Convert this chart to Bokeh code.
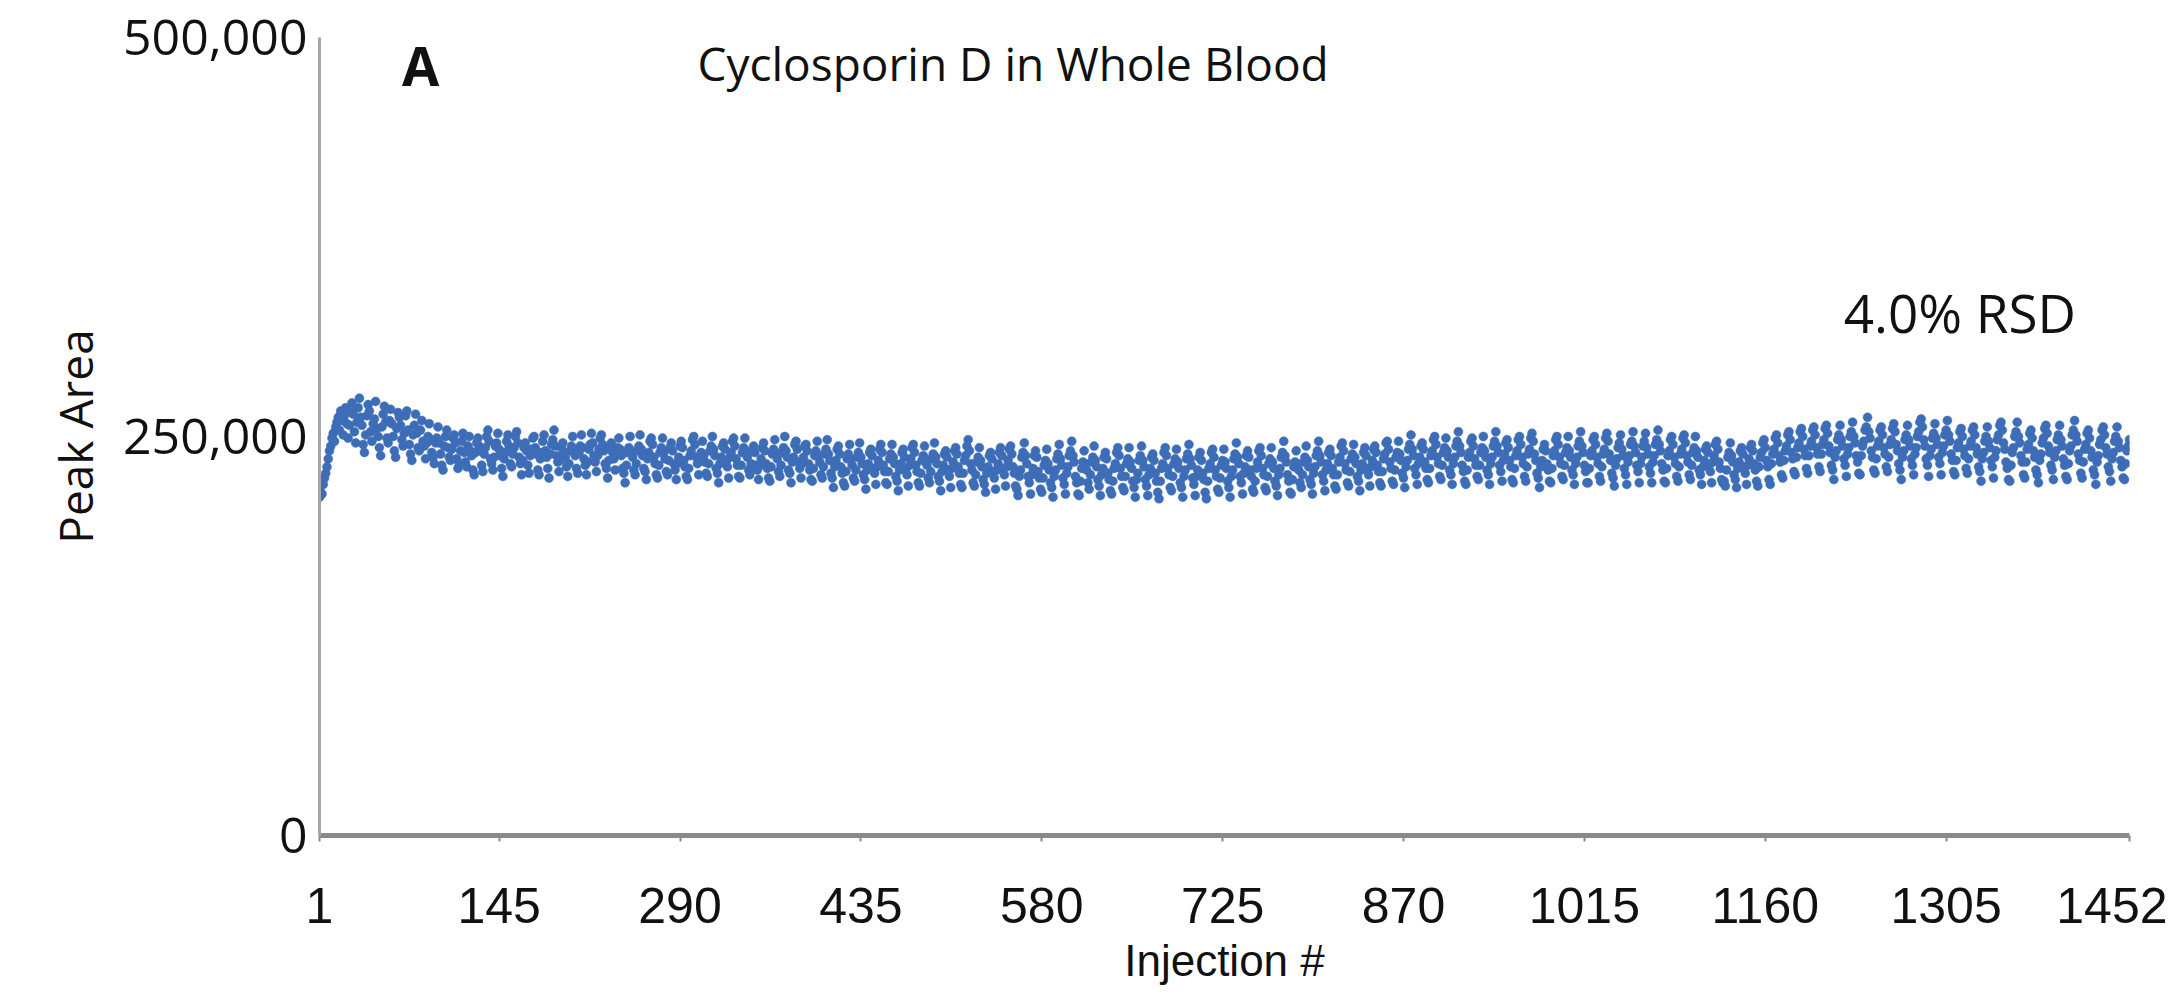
from bokeh.plotting import figure
from bokeh.models import Range1d, FixedTicker, NumeralTickFormatter, Label
from bokeh.embed import file_html
from bokeh.resources import INLINE

# ---------------- data (peak area in thousands, one value per injection) ----------------
peak_area_k = [
    212,215,214,220,224,227,231,236,241,244,249,252,247,256,259,262,254,266,260,251,263,268,258,249,
    257,266,271,264,253,246,259,268,274,262,257,245,240,251,263,270,266,253,247,258,261,272,255,250,
    243,238,256,264,269,259,249,246,260,267,258,250,241,237,255,265,262,257,248,244,252,263,266,254,
    245,239,235,251,257,264,252,243,241,254,260,247,244,236,246,250,258,248,240,237,233,246,249,256,
    246,239,232,229,244,250,254,243,237,235,242,249,251,246,236,230,233,241,247,252,240,234,231,244,
    250,241,238,229,226,240,246,249,244,241,232,228,239,243,250,254,247,236,233,229,237,244,246,252,
    242,238,230,225,236,240,247,251,244,233,231,239,243,250,253,246,237,233,226,235,243,246,241,232,
    227,238,242,249,250,243,239,229,226,236,240,247,251,241,237,230,224,239,245,248,254,244,238,234,
    228,235,243,246,240,237,231,225,233,241,244,250,242,238,230,227,240,244,251,243,236,232,226,234,
    242,245,252,246,238,234,228,238,242,249,251,245,241,233,230,224,235,243,246,240,236,229,239,243,
    249,242,238,230,227,221,232,240,243,250,241,237,229,226,233,241,244,251,242,238,230,228,223,236,
    240,247,249,245,237,233,226,224,232,240,243,249,240,236,228,226,235,243,246,241,233,229,223,233,
    237,244,247,243,235,231,225,223,230,238,241,248,250,245,237,233,226,236,240,247,238,234,227,225,
    233,241,244,250,242,238,230,227,221,233,237,244,246,242,234,231,224,237,240,247,249,244,236,232,
    225,224,232,240,243,249,241,237,229,226,233,241,244,240,232,229,223,232,236,243,246,241,233,230,
    224,222,231,239,242,248,240,236,228,225,232,240,243,250,241,237,229,227,221,234,237,245,247,242,
    234,230,224,233,237,244,245,241,233,229,223,222,230,238,241,247,238,234,226,224,231,239,242,248,
    239,235,227,224,218,231,235,242,244,239,231,227,221,219,228,236,239,245,236,232,224,222,229,237,
    240,246,237,233,226,223,217,229,233,240,242,238,230,227,220,231,235,242,245,240,232,228,221,220,
    228,236,239,245,237,233,225,222,216,229,233,240,242,237,229,226,219,232,236,243,245,240,232,228,
    221,219,227,235,238,244,236,232,224,221,228,236,239,246,237,233,225,222,216,228,232,239,241,237,
    229,225,218,230,234,241,243,239,231,227,220,218,227,235,238,244,248,241,233,229,221,219,226,234,
    237,243,235,231,223,220,215,227,231,238,240,236,228,224,217,229,233,240,243,238,230,226,219,231,
    235,242,244,239,231,227,219,217,213,225,229,237,240,246,238,233,225,221,214,226,230,238,241,237,
    228,224,217,215,224,232,235,242,233,229,221,218,212,225,229,236,239,245,236,232,224,220,214,227,
    231,238,241,247,238,234,225,221,214,213,222,230,234,241,233,229,221,217,226,234,237,244,235,231,
    223,219,213,226,230,237,240,236,227,223,216,214,222,230,233,240,243,238,230,225,218,216,225,233,
    236,243,234,230,222,218,212,223,227,235,238,244,235,231,223,219,213,226,230,237,239,235,227,222,
    215,211,222,230,233,240,243,238,230,226,218,216,225,233,236,242,234,230,221,218,212,225,229,236,
    239,245,236,232,224,220,213,225,229,237,240,235,227,223,215,211,222,230,233,240,242,237,229,225,
    217,215,224,232,235,242,234,230,222,218,212,225,229,236,239,246,237,233,225,221,214,227,231,238,
    241,237,229,225,217,215,222,230,234,241,243,238,230,226,218,216,225,233,236,243,234,230,222,219,
    213,226,230,237,240,247,238,234,226,222,215,214,223,231,234,241,233,229,221,218,226,234,237,244,
    235,231,223,220,214,227,231,238,241,247,238,234,226,222,216,229,233,240,242,238,230,226,219,217,
    226,234,237,244,246,241,233,229,221,219,228,236,239,245,237,233,225,222,216,229,233,240,243,238,
    230,226,219,231,235,242,244,240,232,228,221,219,228,236,239,246,247,242,234,230,222,220,229,237,
    240,247,239,235,227,224,218,231,235,242,245,251,242,238,230,226,220,233,237,244,246,242,234,230,
    223,221,230,238,241,248,250,245,237,233,225,223,232,240,243,249,241,237,229,226,220,233,237,244,
    247,253,244,240,232,228,222,220,229,237,240,247,249,244,236,232,225,223,232,240,243,250,241,237,
    229,226,220,233,237,244,247,253,244,240,232,228,222,235,239,246,248,243,235,231,223,221,230,238,
    241,248,250,245,237,233,225,222,231,239,242,249,252,247,239,235,227,224,218,231,235,242,245,241,
    233,229,222,221,230,238,241,248,250,245,237,233,225,223,232,240,243,250,241,237,229,226,220,233,
    237,244,247,253,244,240,232,228,221,221,230,238,241,248,250,245,237,233,225,222,231,239,242,249,
    252,247,239,235,227,224,219,232,236,243,246,251,242,238,230,226,220,234,238,245,247,253,244,240,
    232,228,221,233,237,244,247,252,243,239,231,227,221,234,238,245,248,254,245,241,233,229,222,221,
    230,238,241,248,250,245,237,233,225,222,231,239,242,249,251,246,238,234,226,223,232,240,243,250,
    241,237,229,226,220,231,235,242,244,240,232,228,221,234,238,245,247,242,234,230,223,221,222,219,
    229,237,240,246,238,234,226,223,218,230,234,241,243,239,231,227,220,232,236,243,245,241,233,229,
    222,219,231,237,240,246,248,243,235,231,223,220,233,239,242,249,251,246,238,234,226,224,235,241,
    244,251,253,248,240,236,228,226,237,243,246,253,255,250,242,238,230,227,238,244,247,254,256,251,
    243,239,231,228,239,245,248,255,257,252,244,240,232,229,223,237,241,248,251,257,248,244,236,232,
    225,239,243,250,253,259,250,246,238,234,227,226,238,244,247,254,256,262,253,249,241,237,229,227,
    236,244,247,254,256,251,243,239,231,228,237,245,248,255,258,253,245,241,233,229,223,237,241,248,
    251,257,248,244,236,232,226,239,243,250,253,259,261,256,248,244,236,232,225,238,242,249,252,258,
    249,245,237,233,226,240,244,251,254,260,251,247,239,235,228,226,235,243,246,253,255,250,242,238,
    230,227,236,244,247,254,256,251,243,239,231,228,222,236,240,247,250,256,247,243,235,231,224,237,
    241,248,251,257,259,254,246,242,234,230,223,222,232,240,243,250,253,259,250,246,238,234,226,224,
    234,242,245,252,254,249,241,237,229,226,221,235,239,246,249,255,257,252,244,240,232,229,223,237,
    241,248,251,257,248,244,236,232,225,223,233,241,244,251,254,260,251,247,239,235,227,224,234,242,
    245,252,254,249,241,237,229,226,220,234,238,245,248,254,256,251,243,239,231,228,222,236,240,247,
    250,256,247,243,235,231,224,223,233,241,244,248,
]
injection = list(range(1, len(peak_area_k) + 1))
peak_area = [v * 1000 for v in peak_area_k]

x_ticks = [1, 145, 290, 435, 580, 725, 870, 1015, 1160, 1305, 1452]
y_ticks = [0, 250000, 500000]

title_text = "Cyclosporin D in Whole Blood"
panel_text = "A"
rsd_text = "4.0% RSD"

NARROW = "'Liberation Sans Narrow', 'Arial Narrow', 'Liberation Sans', sans-serif"
SANS = "'Open Sans', 'Noto Sans', sans-serif"
BLUE = "#3d6db7"

p = figure(
    frame_width=1810, frame_height=798,
    x_range=Range1d(1, 1452), y_range=Range1d(0, 500000),
    output_backend="svg", toolbar_location=None,
    background_fill_color="white", border_fill_color="white",
)
p.min_border_left = 319
p.min_border_top = 37
p.min_border_right = 38
p.min_border_bottom = 141
p.outline_line_color = None
p.xgrid.grid_line_color = None
p.ygrid.grid_line_color = None

p.scatter(injection, peak_area, size=9, marker="circle",
          fill_color=BLUE, line_color=BLUE, line_width=0.5)

# x axis
xa = p.xaxis[0]
xa.ticker = FixedTicker(ticks=x_ticks)
xa.axis_line_color = "#8a8a8a"
xa.axis_line_width = 5
xa.major_tick_line_color = "#8a8a8a"
xa.major_tick_line_width = 2
xa.major_tick_out = 6
xa.major_tick_in = 0
xa.minor_tick_line_color = None
xa.major_label_text_font = NARROW
xa.major_label_text_font_size = "50px"
xa.major_label_text_color = "#111111"
xa.major_label_standoff = 46
xa.axis_label = "Injection #"
xa.axis_label_text_font = NARROW
xa.axis_label_text_font_size = "44px"
xa.axis_label_text_font_style = "normal"
xa.axis_label_text_color = "#111111"
xa.axis_label_standoff = 10

# y axis
ya = p.yaxis[0]
ya.ticker = FixedTicker(ticks=y_ticks)
ya.formatter = NumeralTickFormatter(format="0,0")
ya.axis_line_color = "#a6a6a6"
ya.axis_line_width = 3
ya.major_tick_line_color = None
ya.minor_tick_line_color = None
ya.major_tick_out = 0
ya.major_tick_in = 0
ya.major_label_text_font = SANS
ya.major_label_text_font_size = "50px"
ya.major_label_text_color = "#111111"
ya.major_label_standoff = 12
ya.axis_label = "Peak Area"
ya.axis_label_text_font = SANS
ya.axis_label_text_font_size = "46px"
ya.axis_label_text_font_style = "normal"
ya.axis_label_text_color = "#111111"
ya.axis_label_standoff = 14

# annotations
p.add_layout(Label(x=557, y=484000, text=title_text, text_font=SANS,
                   text_font_size="46px", text_align="center", text_baseline="middle",
                   text_color="#111111"))
p.add_layout(Label(x=82, y=483000, text=panel_text, text_font=SANS,
                   text_font_size="54px", text_font_style="bold", text_align="center",
                   text_baseline="middle", text_color="#111111"))
p.add_layout(Label(x=1316, y=328000, text=rsd_text, text_font=SANS,
                   text_font_size="53px", text_align="center", text_baseline="middle",
                   text_color="#111111"))

open("out.html", "w").write(file_html(p, INLINE))
